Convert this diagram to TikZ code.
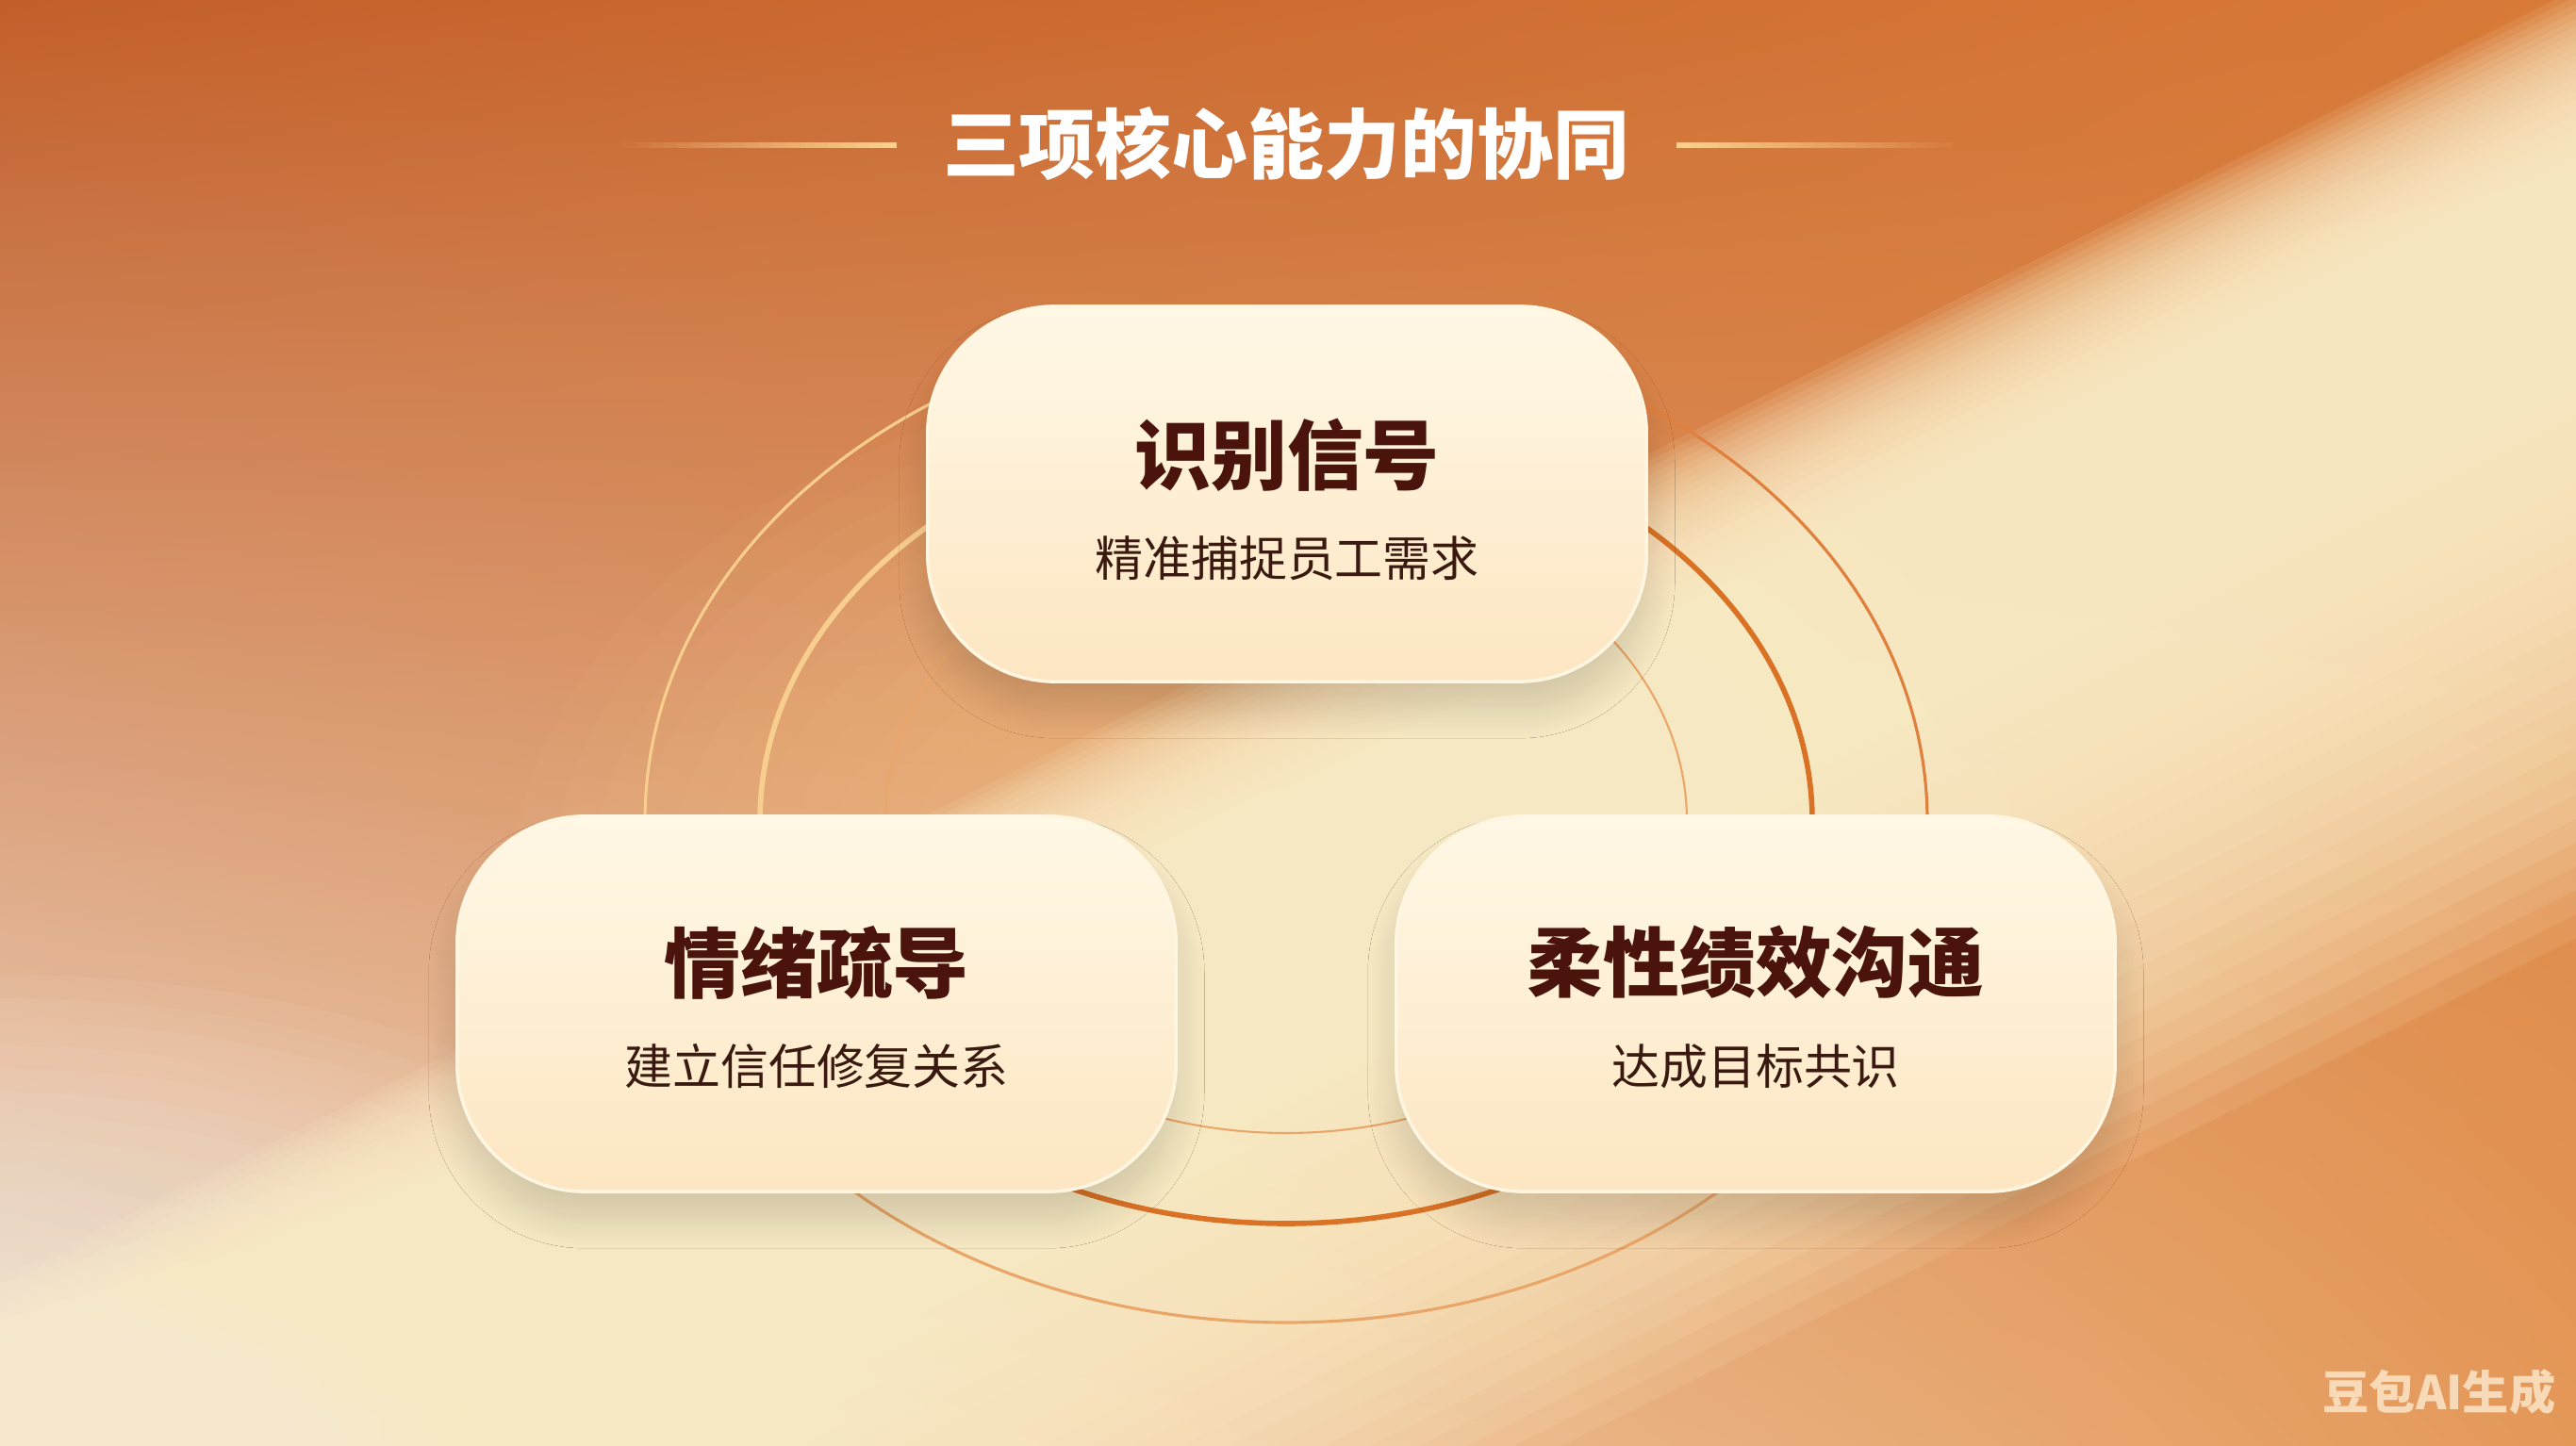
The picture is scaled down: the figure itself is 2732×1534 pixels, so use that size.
\documentclass[tikz,border=0pt]{standalone}
\usepackage{fontspec}
\newfontfamily\cjk{Noto Sans CJK SC}
\usetikzlibrary{shadings,shadows.blur}

\definecolor{bgtopleft}{RGB}{194, 95, 43}
\definecolor{bgtopright}{RGB}{216, 122, 56}
\definecolor{bgbotleft}{RGB}{242, 222, 200}
\definecolor{bgbotright}{RGB}{228, 152, 88}
\definecolor{beamcream}{RGB}{255, 241, 204}
\definecolor{glowpeach}{RGB}{249, 204, 146}
\definecolor{boxtop}{RGB}{255, 248, 230}
\definecolor{boxbottom}{RGB}{253, 230, 194}
\definecolor{boxrim}{RGB}{255, 246, 226}
\definecolor{titlebrown}{RGB}{74, 20, 12}
\definecolor{subbrown}{RGB}{58, 26, 16}
\definecolor{ringlight}{RGB}{248, 206, 142}
\definecolor{ringmid}{RGB}{224, 128, 62}
\definecolor{ringdark}{RGB}{218, 114, 38}
\definecolor{ringsoft}{RGB}{234, 166, 104}
\definecolor{linegold}{RGB}{252, 208, 140}
\definecolor{markpeach}{RGB}{248, 218, 184}

\tikzset{
    card text/.style={
        font=\cjk,
        inner sep=0pt
    }
}

\begin{document}
\begin{tikzpicture}[x=0.01cm, y=-0.01cm]

    \tikzstyle{capbox} = [
        rounded corners=1.35cm,
        minimum width=7.62cm,
        minimum height=3.98cm,
        top color=boxtop,
        bottom color=boxbottom,
        draw=boxrim,
        line width=1pt,
        blur shadow={shadow xshift=0cm, shadow yshift=-0.3cm, shadow blur radius=0.3cm, shadow blur steps=12, shadow opacity=14}
    ]
    \tikzstyle{captitle} = [
        card text,
        text=titlebrown,
        font=\cjk\bfseries\fontsize{23pt}{23pt}\selectfont
    ]
    \tikzstyle{capsub} = [
        card text,
        text=subbrown,
        font=\cjk\fontsize{14.5pt}{14.5pt}\selectfont
    ]

    % Fond et lumière
    \useasboundingbox (0,0) rectangle (2732,1534);
    \shade[upper left=bgtopleft, upper right=bgtopright, lower left=bgbotleft, lower right=bgbotright]
        (0,0) rectangle (2732,1534);
    \foreach \i in {0,...,19} {
        \fill[bgbotleft!50!white, fill opacity=0.06] (0,1534) ellipse [x radius={900*(1-\i/20)}, y radius={500*(1-\i/20)}];
        \fill[glowpeach, fill opacity=0.05] (1364,950) ellipse [x radius={820*(1-\i/20)}, y radius={560*(1-\i/20)}];
    }
    \begin{scope}[transform canvas={rotate around={26.6:(1364,1121)}}]
        \foreach \i in {0,...,23} {
            \fill[beamcream, fill opacity=0.11] (-700,{721+160*\i/23}) rectangle (3428,{1621-520*\i/23});
        }
    \end{scope}

    % Titre
    \node[card text, text=white, font=\cjk\bfseries\fontsize{23pt}{23pt}\selectfont] (title) at (1364,153) {三项核心能力的协同};
    \foreach \i in {0,...,19} {
        \fill[linegold, fill opacity={(\i+1)/20}] ({660+\i*14.55},151) rectangle ({660+(\i+1)*14.55},157);
        \fill[linegold, fill opacity={(\i+1)/20}] ({2070-\i*14.6},151) rectangle ({2070-(\i+1)*14.6},157);
    }

    % Anneaux derrière les cartes
    \foreach \ra/\rb/\wd/\cl/\cr/\cb in {680/532/0.9/ringlight/ringmid/ringsoft,
                                           558/427/1.6/ringlight/ringdark/ringdark,
                                           425/331/0.6/ringsoft/ringsoft/ringsoft} {
        \draw[\cl, line width=\wd pt] (1364-\ra,871) arc[start angle=180, end angle=270, x radius=\ra, y radius=\rb];
        \draw[\cr, line width=\wd pt] (1364,871-\rb) arc[start angle=270, end angle=360, x radius=\ra, y radius=\rb];
        \draw[\cb, line width=\wd pt] (1364+\ra,871) arc[start angle=0, end angle=180, x radius=\ra, y radius=\rb];
    }

    % Cartes
    \node[capbox] (signal) at (1365,524) {};
    \node[capbox] (emotion) at (866,1065) {};
    \node[capbox] (perform) at (1862,1065) {};

    \node[captitle] (signaltitle) at (1365,483) {识别信号};
    \node[capsub] (signalsub) at (1365,592) {精准捕捉员工需求};
    \node[captitle] (emotiontitle) at (866,1021) {情绪疏导};
    \node[capsub] (emotionsub) at (866,1131) {建立信任修复关系};
    \node[captitle] (performtitle) at (1862,1021) {柔性绩效沟通};
    \node[capsub] (performsub) at (1862,1131) {达成目标共识};

    % Marque
    \node[card text, text=markpeach, font=\cjk\bfseries\fontsize{14pt}{14pt}\selectfont] (mark) at (2587,1477) {豆包AI生成};

\end{tikzpicture}
\end{document}
